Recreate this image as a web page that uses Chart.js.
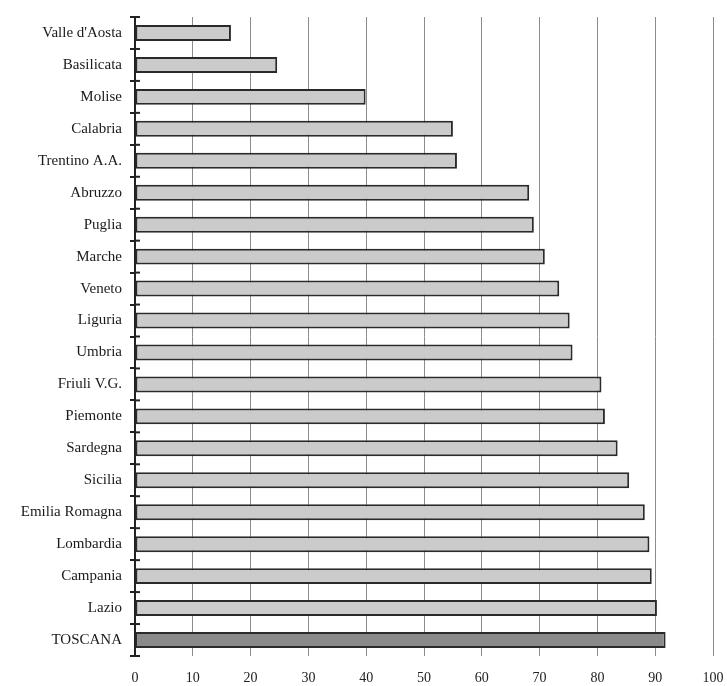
<!DOCTYPE html>
<html>
<head>
<meta charset="utf-8">
<title>Regioni</title>
<script src="https://cdn.jsdelivr.net/npm/chart.js@4"></script>
<style>
    html, body { margin: 0; padding: 0; background: #ffffff; }
    #wrap { width: 727px; height: 686px; position: relative; }
</style>
</head>
<body>
<div id="wrap"><canvas id="barChart"></canvas></div>
<script>
// Regions, top to bottom as in the picture
const regions = [
    "Valle d'Aosta", 'Basilicata', 'Molise', 'Calabria', 'Trentino A.A.',
    'Abruzzo', 'Puglia', 'Marche', 'Veneto', 'Liguria',
    'Umbria', 'Friuli V.G.', 'Piemonte', 'Sardegna', 'Sicilia',
    'Emilia Romagna', 'Lombardia', 'Campania', 'Lazio', 'TOSCANA'
];

const values = [
    16.6, 24.6, 39.9, 55.0, 55.7,
    68.2, 69.0, 70.9, 73.4, 75.2,
    75.7, 80.7, 81.3, 83.5, 85.5,
    88.2, 89.0, 89.4, 90.3, 91.8
];

const xTicks = [0, 10, 20, 30, 40, 50, 60, 70, 80, 90, 100];

// The highlighted region is drawn darker
const highlight = 'TOSCANA';

// draws the inner half of the category ticks so they cross the axis line
const crossTicks = {
    id: 'crossTicks',
    afterDraw(chart) {
        const y = chart.scales.y;
        const ctx = chart.ctx;
        const step = (y.bottom - y.top) / regions.length;
        ctx.save();
        ctx.strokeStyle = '#222';
        ctx.lineWidth = 2;
        for (let i = 0; i <= regions.length; i++) {
            const py = y.getPixelForValue(i) - step / 2;
            ctx.beginPath();
            ctx.moveTo(y.right, py);
            ctx.lineTo(y.right + 5, py);
            ctx.stroke();
        }
        ctx.restore();
    }
};

document.addEventListener('DOMContentLoaded', function() {
    const ctx = document.getElementById('barChart').getContext('2d');

    new Chart(ctx, {
        type: 'bar',
        data: {
            labels: regions,
            datasets: [{
                data: values,
                backgroundColor: regions.map(r => r === highlight ? '#8a8a8a' : '#cbcbcb'),
                borderColor: '#2a2a2a',
                borderWidth: 2,
                borderSkipped: false,
                categoryPercentage: 1,
                barPercentage: 0.5
            }]
        },
        options: {
            indexAxis: 'y',
            responsive: true,
            maintainAspectRatio: false,
            animation: false,
            layout: { padding: { left: 0, right: 14, top: 13, bottom: 0 } },
            plugins: {
                legend: { display: false },
                tooltip: { enabled: false }
            },
            scales: {
                x: {
                    min: 0,
                    max: 100,
                    afterFit: scale => {
                        scale.height = 30;
                        // let the "100" label hang into the right margin
                        scale.paddingRight = 0;
                    },
                    afterBuildTicks: scale => { scale.ticks = xTicks.map(v => ({ value: v })); },
                    grid: { color: '#8c8c8c', lineWidth: 1, drawTicks: false },
                    border: { display: false },
                    ticks: {
                        padding: 14,
                        color: '#222',
                        font: { family: 'Liberation Serif', size: 14 }
                    }
                },
                y: {
                    afterFit: scale => { scale.width = 135; },
                    grid: {
                        offset: true,
                        drawOnChartArea: false,
                        tickLength: 5,
                        color: '#222',
                        lineWidth: 2
                    },
                    border: { color: '#222', width: 2 },
                    ticks: {
                        padding: 8,
                        color: '#1a1a1a',
                        font: { family: 'Liberation Serif', size: 15 }
                    }
                }
            }
        },
        plugins: [crossTicks]
    });
});
</script>
</body>
</html>
